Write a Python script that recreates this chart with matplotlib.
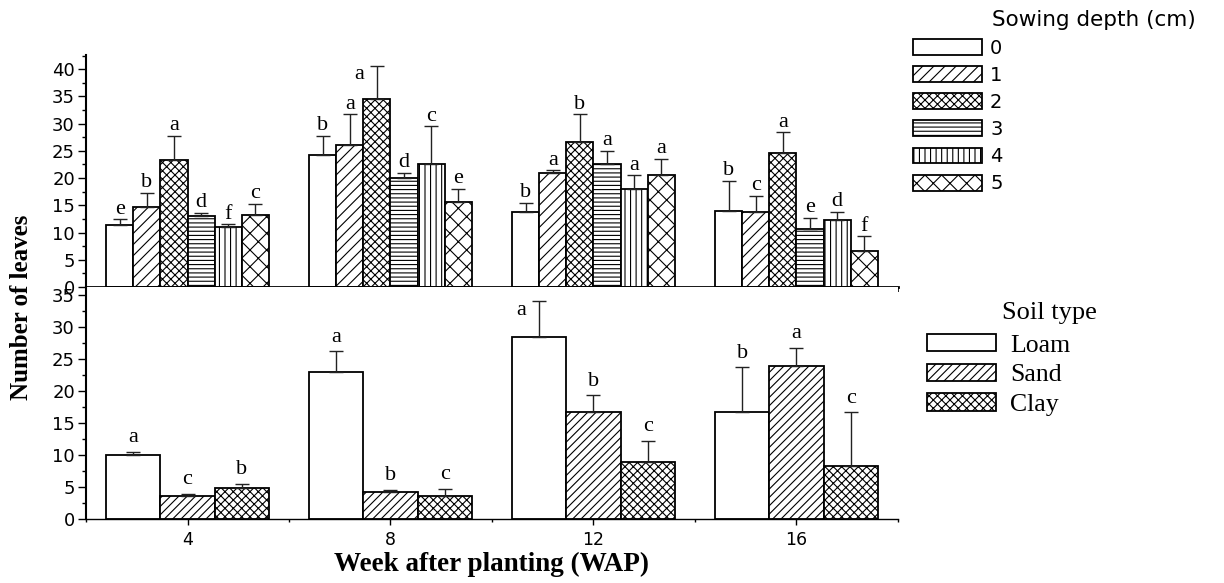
import matplotlib
matplotlib.use("Agg")
import matplotlib.pyplot as plt
import numpy as np
from matplotlib.ticker import MultipleLocator, FixedLocator

plt.rcParams['hatch.linewidth'] = 0.8
plt.rcParams['font.family'] = ['DejaVu Sans']
SERIF = ['Liberation Serif', 'DejaVu Serif']

# ---------------- data ----------------
weeks = [4, 8, 12, 16]

depth_labels = ['0', '1', '2', '3', '4', '5']
depth_means = [
    [11.3, 24.3, 13.7, 14.0],
    [14.65, 26.0, 21.0, 13.7],
    [23.3, 34.6, 26.65, 24.6],
    [13.0, 20.0, 22.6, 10.6],
    [11.0, 22.6, 18.0, 12.3],
    [13.3, 15.6, 20.65, 6.6],
]
depth_errs = [
    [1.15, 3.5, 1.8, 5.5],
    [2.65, 5.7, 0.45, 3.1],
    [4.5, 6.0, 5.05, 3.8],
    [0.6, 1.0, 2.4, 2.15],
    [0.5, 6.9, 2.5, 1.5],
    [2.0, 2.4, 2.85, 2.7],
]
depth_letters = [
    ['e', 'b', 'b', 'b'],
    ['b', 'a', 'a', 'c'],
    ['a', 'a', 'b', 'a'],
    ['d', 'd', 'a', 'e'],
    ['f', 'c', 'a', 'd'],
    ['c', 'e', 'a', 'f'],
]

soil_labels = ['Loam', 'Sand', 'Clay']
soil_means = [
    [10.0, 23.0, 28.4, 16.7],
    [3.6, 4.3, 16.7, 24.0],
    [4.93, 3.6, 8.94, 8.3],
]
soil_errs = [
    [0.55, 3.2, 5.7, 7.0],
    [0.35, 0.3, 2.65, 2.7],
    [0.63, 1.2, 3.26, 8.4],
]
soil_letters = [
    ['a', 'a', 'a', 'b'],
    ['c', 'b', 'b', 'a'],
    ['b', 'c', 'c', 'c'],
]

depth_hatches = ['', '///', 'xxxx', '----', '|||', 'xx']
soil_hatches = ['', '////', 'xxxx']

# ---------------- figure ----------------
W, H = 1224, 583
fig = plt.figure(figsize=(W / 100, H / 100), dpi=100)

def fx(px):
    return px / W

def fy(py):
    return 1 - py / H

ax1 = fig.add_axes([fx(86), fy(287), fx(898) - fx(86), fy(55) - fy(287)])
ax2 = fig.add_axes([fx(86), fy(519.3), fx(898) - fx(86), fy(287) - fy(519.3)])

group_w = 3.2
x = np.array(weeks, dtype=float)


def draw(ax, means, errs, letters, hatches, ylim, off_pts):
    n = len(means)
    w = group_w / n
    handles = []
    for i in range(n):
        pos = x + (i - (n - 1) / 2) * w
        m = np.array(means[i])
        e = np.array(errs[i])
        b = ax.bar(pos, m, width=w, color='white', edgecolor='black',
                   linewidth=1.3, hatch=hatches[i], zorder=2,
                   yerr=[np.zeros_like(e), e],
                   error_kw=dict(ecolor='#222222', elinewidth=1.0,
                                 capsize=5, capthick=1.0, zorder=3))
        handles.append(b)
        for j in range(len(m)):
            top = m[j] + e[j]
            if top + 3 > ylim:
                ax.annotate(letters[i][j], xy=(pos[j] - 0.36, top - 1.5),
                            ha='center', va='center', fontsize=16,
                            family=SERIF)
            else:
                ax.annotate(letters[i][j], xy=(pos[j], top),
                            xytext=(0, off_pts), textcoords='offset points',
                            ha='center', va='baseline', fontsize=16,
                            family=SERIF)
    ax.set_xlim(2, 18)
    ax.set_ylim(0, ylim)
    return handles


h1 = draw(ax1, depth_means, depth_errs, depth_letters, depth_hatches, 42.6, 4)
h2 = draw(ax2, soil_means, soil_errs, soil_letters, soil_hatches, 36.25, 7)

for ax in (ax1, ax2):
    ax.spines['top'].set_visible(False)
    ax.spines['right'].set_visible(False)
    ax.spines['left'].set_linewidth(1.5)
    ax.xaxis.set_major_locator(FixedLocator(weeks))
    ax.xaxis.set_minor_locator(FixedLocator([2, 6, 10, 14, 18]))
    ax.yaxis.set_major_locator(MultipleLocator(5))
    ax.yaxis.set_minor_locator(MultipleLocator(2.5))
    ax.tick_params(axis='y', which='major', direction='out', length=6,
                   width=1, labelsize=13, pad=2)
    ax.tick_params(axis='y', which='minor', direction='out', length=3,
                   width=1)

ax1.spines['bottom'].set_linewidth(2.0)
ax1.tick_params(axis='x', which='major', direction='out', length=6,
                width=1.5, labelbottom=False)
ax1.tick_params(axis='x', which='minor', direction='out', length=3.5,
                width=1.2)

ax2.spines['bottom'].set_linewidth(1.0)
ax2.tick_params(axis='x', which='major', direction='out', length=4.5,
                width=1, labelsize=12.5, pad=4)
ax2.tick_params(axis='x', which='minor', direction='out', length=2.5,
                width=1)
ax2.set_xticklabels([str(w) for w in weeks])

# axis labels
fig.text(fx(22), fy(307), 'Number of leaves', rotation=90, ha='center',
         va='center', fontsize=18, fontweight='bold', family=SERIF)
fig.text(fx(492), fy(564), 'Week after planting (WAP)', ha='center',
         va='center', fontsize=19.5, fontweight='bold', family=SERIF)

# legends
fs1 = 14
px1 = fs1 * 100 / 72
fig.text(fx(992), fy(20), 'Sowing depth (cm)', ha='left', va='center',
         fontsize=15.5)
fig.legend(h1, depth_labels, loc='upper left',
           bbox_to_anchor=(fx(913), fy(38.5)), frameon=False, fontsize=fs1,
           handlelength=69 / px1, handleheight=17 / px1,
           handletextpad=8 / px1, labelspacing=0.42, borderpad=0,
           borderaxespad=0)

fs2 = 18.5
px2 = fs2 * 100 / 72
fig.text(fx(1002), fy(313), 'Soil type', ha='left', va='center',
         fontsize=19, family=SERIF)
fig.legend(h2, soil_labels, loc='upper left',
           bbox_to_anchor=(fx(927), fy(334)), frameon=False,
           prop=dict(family=SERIF, size=fs2),
           handlelength=69 / px2, handleheight=17 / px2,
           handletextpad=14 / px2, labelspacing=0.27, borderpad=0,
           borderaxespad=0)

fig.savefig('out.png', dpi=100)
